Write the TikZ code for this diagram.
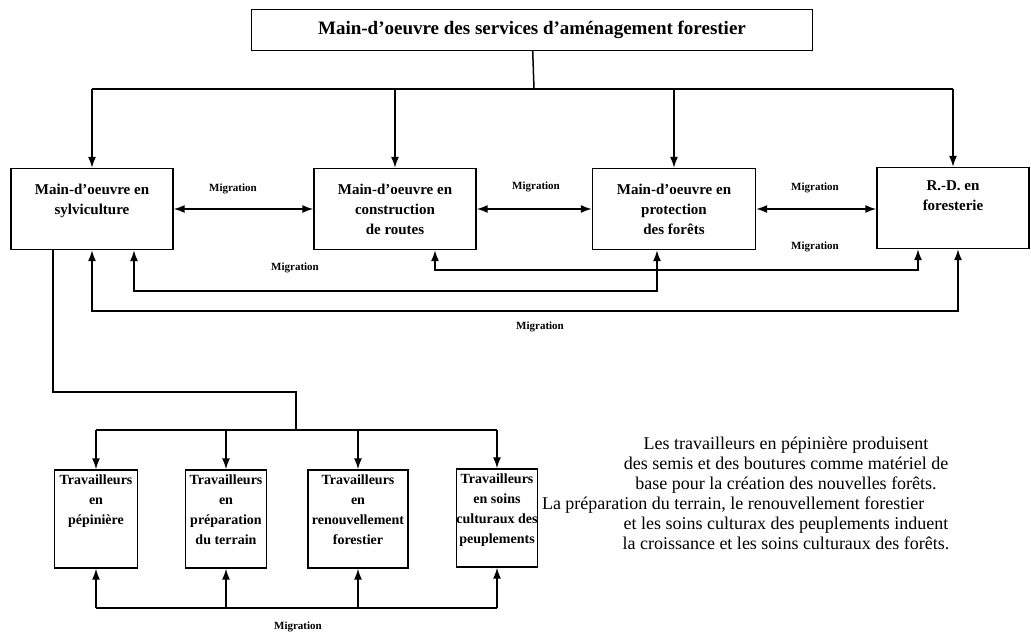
\documentclass[tikz,border=0pt]{standalone}
\usepackage{fontspec}
\setmainfont{Liberation Serif}
\usetikzlibrary{positioning,arrows.meta}

\tikzset{
  box/.style={draw,line width=1.4pt,minimum height=81pt,inner sep=0pt},
  wbox/.style={draw,line width=1.4pt,minimum height=98pt,inner sep=0pt},
  boxtext/.style={align=center,inner sep=0pt,font=\fontsize{15}{20}\selectfont\bfseries},
  wtext/.style={align=center,inner sep=0pt,font=\fontsize{14}{20}\selectfont\bfseries},
  migtext/.style={inner sep=0pt,font=\fontsize{11}{12}\selectfont\bfseries},
  wire/.style={line width=1.5pt},
  arr/.style={line width=1.5pt,-{Latex[length=11pt,width=8pt]}},
  dbl/.style={line width=1.5pt,{Latex[length=11pt,width=8pt]}-{Latex[length=11pt,width=8pt]}},
}

\begin{document}
\begin{tikzpicture}[x=1pt,y=-1pt]
\useasboundingbox (0,0) rectangle (1031,632);

\node[box,minimum width=561pt,minimum height=41pt,font=\fontsize{19}{20}\selectfont\bfseries] (services) at (532,30) {Main-d'oeuvre des services d'aménagement forestier};

\node[box,minimum width=162pt] (sylv) at (92,209) {};
\node[box,minimum width=162pt] (constr) at (395,209) {};
\node[box,minimum width=163pt] (prot) at (674,209) {};
\node[box,minimum width=152pt] (rd) at (953,208) {};
\node[boxtext,below=16pt of sylv.north] (sylvtext) {Main-d'oeuvre en\\sylviculture};
\node[boxtext,below=16pt of constr.north] (constrtext) {Main-d'oeuvre en\\construction\\de routes};
\node[boxtext,below=16pt of prot.north] (prottext) {Main-d'oeuvre en\\protection\\des forêts};
\node[boxtext,below=14pt of rd.north] (rdtext) {R.-D. en\\foresterie};

\node[wbox,minimum width=83pt] (pepin) at (96,519) {};
\node[wbox,minimum width=81pt] (terrain) at (226,519) {};
\node[wbox,minimum width=100pt] (renouv) at (358,519) {};
\node[wbox,minimum width=81pt] (soins) at (497,518) {};
\node[wtext,below=5pt of pepin.north] (pepintext) {Travailleurs\\en\\pépinière};
\node[wtext,below=5pt of terrain.north] (terraintext) {Travailleurs\\en\\préparation\\du terrain};
\node[wtext,below=5pt of renouv.north] (renouvtext) {Travailleurs\\en\\renouvellement\\forestier};
\node[wtext,below=5pt of soins.north] (soinstext) {Travailleurs\\en soins\\culturaux des\\peuplements};

\node[align=center,inner sep=0pt,font=\fontsize{18}{20}\selectfont] (note) at (786,493) {Les travailleurs en pépinière produisent\\des semis et des boutures comme matériel de\\base pour la création des nouvelles forêts.\\\makebox[488pt][l]{La préparation du terrain, le renouvellement forestier}\\et les soins culturax des peuplements induent\\la croissance et les soins culturaux des forêts.};

\node[migtext] (mig1) at (233,189) {Migration};
\node[migtext] (mig2) at (536,187) {Migration};
\node[migtext] (mig3) at (815,188) {Migration};
\node[migtext] (mig4) at (815,247) {Migration};
\node[migtext] (mig5) at (295,268) {Migration};
\node[migtext] (mig6) at (540,327) {Migration};
\node[migtext] (mig7) at (298,627) {Migration};

\coordinate (topbus) at (534,89);
\coordinate (split) at (296,392);
\coordinate (lowbus) at (296,430);
\coordinate (migbus) at (296,608);

\draw[wire] (services) -- (topbus);
\draw[wire] (sylv.north |- topbus) -- (rd.north |- topbus);
\foreach \n in {sylv,constr,prot,rd}
  \draw[arr] (\n.north |- topbus) -- (\n.north);

\draw[dbl] (sylv.east) -- (sylv.east -| constr.west);
\draw[dbl] (constr.east) -- (constr.east -| prot.west);
\draw[dbl] (prot.east) -- (prot.east -| rd.west);

\draw[dbl] ([xshift=40pt]constr.south) -- ++(0,20) -| ([xshift=-35pt]rd.south);
\draw[dbl] ([xshift=42pt]sylv.south) -- ++(0,41) -| ([xshift=-17pt]prot.south);
\draw[dbl] (sylv.south) -- ++(0,61) -| ([xshift=5pt]rd.south);

\draw[wire] ([xshift=-39pt]sylv.south) |- (split) -- (lowbus);
\draw[wire] (pepin.north |- lowbus) -- (soins.north |- lowbus);
\foreach \n in {pepin,terrain,renouv,soins}
  \draw[arr] (\n.north |- lowbus) -- (\n.north);

\draw[wire] (pepin.south |- migbus) -- (soins.south |- migbus);
\foreach \n in {pepin,terrain,renouv,soins}
  \draw[arr] (\n.south |- migbus) -- (\n.south);
\end{tikzpicture}
\end{document}
